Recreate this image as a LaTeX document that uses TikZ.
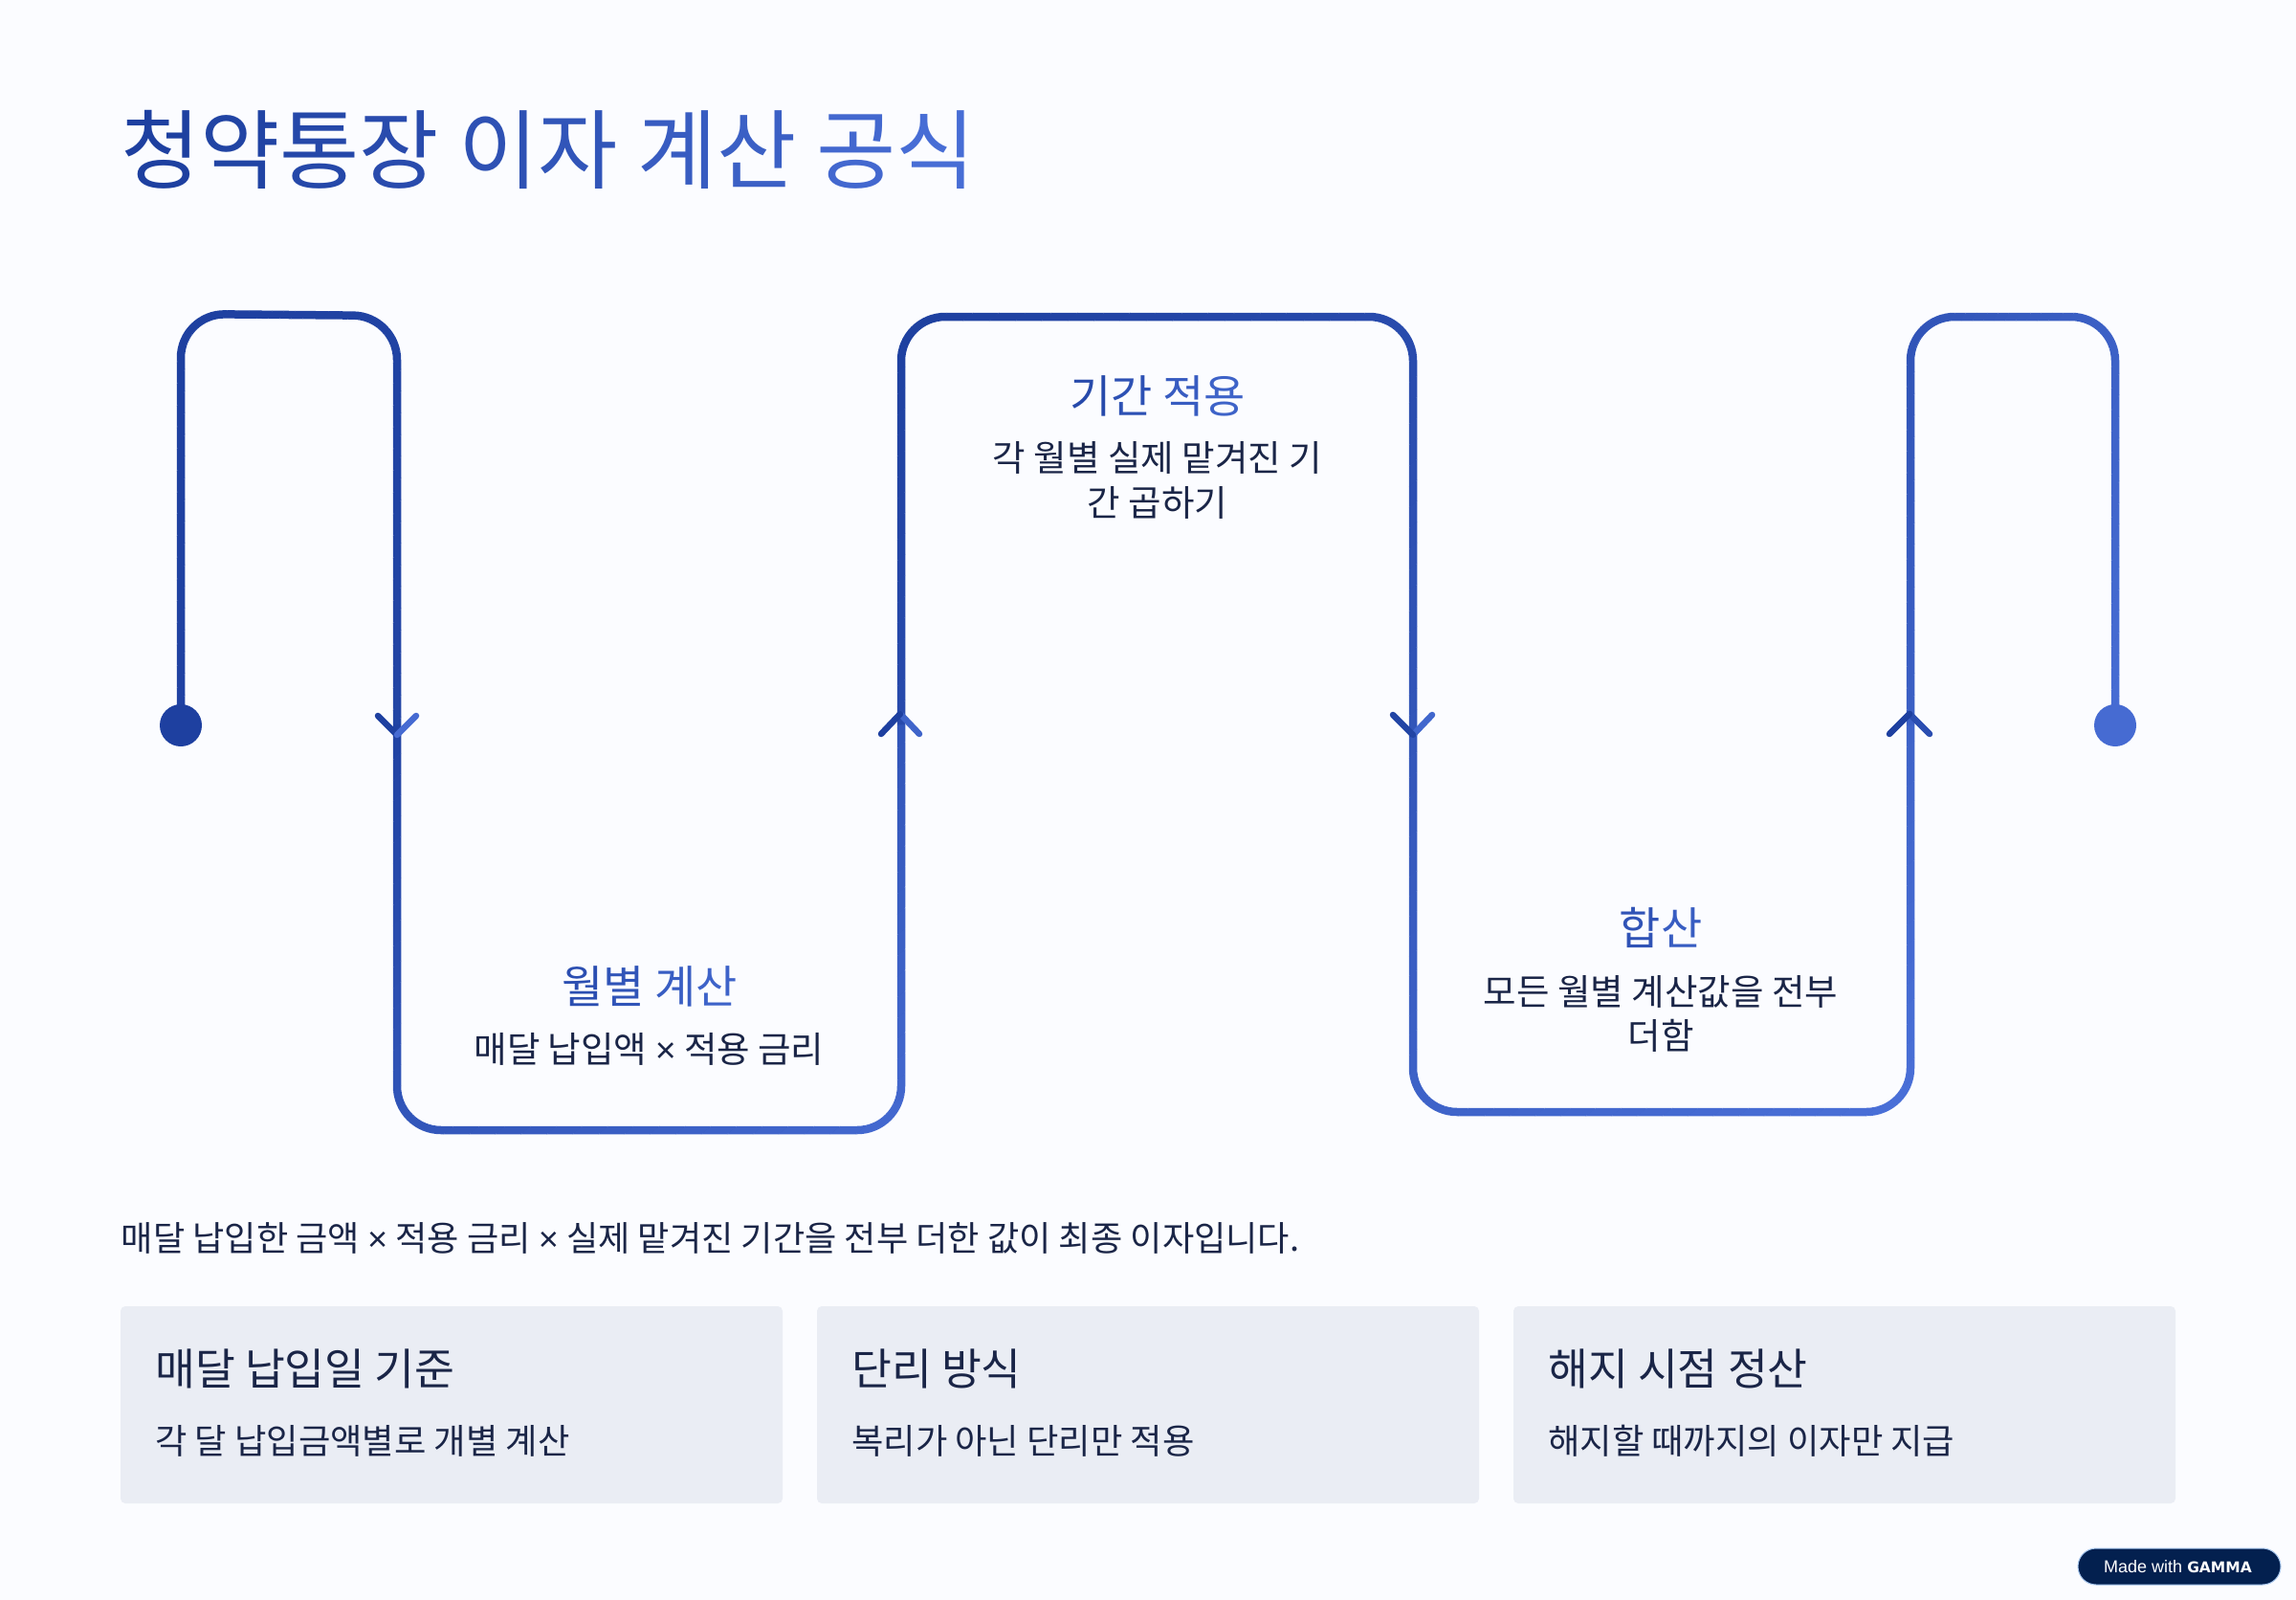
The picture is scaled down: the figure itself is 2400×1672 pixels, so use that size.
\documentclass[tikz,border=0pt]{standalone}
\usepackage{fontspec}
\usepackage{xcolor}
\setmainfont{Noto Sans CJK KR}
\newfontfamily\pBadgeFont{Liberation Sans}
\newfontfamily\pGammaFont{DejaVu Sans}
\definecolor{waveDark}{HTML}{1E40A0}
\definecolor{waveLight}{HTML}{4A70D8}
\definecolor{pageBg}{HTML}{FBFCFF}
\definecolor{cardBg}{HTML}{EAEDF4}
\definecolor{inkDark}{HTML}{1A2547}
\definecolor{badgeBg}{HTML}{03204F}
\definecolor{badgeEdge}{HTML}{A9C8EE}
\newcommand{\pTint}[2]{\textcolor{waveLight!#1!waveDark}{#2}}
\newcommand{\pTimes}{{\pBadgeFont ×}}
% one stretch of the wave, strip by strip along the diagonal of its box
\newcommand{\pWaveGrad}[7]{%
  \draw[wave, line width=6.5pt, #6!50!#5] #7;
  \pgfmathsetmacro{\pKx}{(#2-#1)/(#4-#3)}%
  \pgfmathsetmacro{\pStep}{(#2-#1+(#4-#3)*\pKx+24)/40}%
  \foreach \i in {0,...,39} {%
    \pgfmathsetmacro{\pTa}{#1+#3*\pKx-12+\pStep*\i}%
    \pgfmathsetmacro{\pTb}{\pTa+\pStep}%
    \pgfmathtruncatemacro{\pMix}{\i*100/39}%
    \begin{scope}
      \clip ({\pTa-\pKx*(#3-12)},#3-12) -- ({\pTb-\pKx*(#3-12)},#3-12) -- ({\pTb-\pKx*(#4+12)},#4+12) -- ({\pTa-\pKx*(#4+12)},#4+12) -- cycle;
      \draw[wave, #6!\pMix!#5] #7;
    \end{scope}
  }%
}
\tikzset{
  wave/.style={line width=8.5pt, rounded corners=46pt},
  head/.style={inner sep=0pt, align=center, font=\fontsize{47}{56}\selectfont},
  desc/.style={inner sep=0pt, align=center, text=inkDark, font=\fontsize{37.5}{46.5}\selectfont},
  card/.style={fill=cardBg, rounded corners=5pt},
  cardhead/.style={anchor=west, inner sep=0pt, text=inkDark, font=\fontsize{45.5}{56}\selectfont},
  carddesc/.style={anchor=west, inner sep=0pt, text=inkDark, font=\fontsize{36.3}{44}\selectfont},
  tip/.style={line width=6.5pt, line cap=round, line join=round},
  dot/.style={circle, inner sep=0pt, minimum size=44pt},
}
\begin{document}
\begin{tikzpicture}[x=1pt,y=-1pt]
\useasboundingbox (0,0) rectangle (2400,1672);
\fill[pageBg] (0,0) rectangle (2400,1672);
% title
\node[anchor=base west, inner sep=0pt, font=\fontsize{90.5}{100}\selectfont] (title) at (126,190) {\pTint{0}{청}\pTint{8}{약}\pTint{16}{통}\pTint{24}{장} \pTint{36}{이}\pTint{44}{자} \pTint{58}{계}\pTint{66}{산} \pTint{84}{공}\pTint{94}{식}};
% wave
\pWaveGrad{189}{415}{326}{757}{waveDark}{waveDark!90!waveLight}{(189,757) -- (189,328) -- (415,330) -- (415,757)}
\pWaveGrad{415}{942}{757}{1181}{waveDark!95!waveLight}{waveLight!85!waveDark}{(415,757) -- (415,1181) -- (942,1181) -- (942,757)}
\pWaveGrad{942}{1477}{331}{757}{waveDark}{waveDark!55!waveLight}{(942,757) -- (942,331) -- (1477,331) -- (1477,757)}
\pWaveGrad{1477}{1997}{757}{1162}{waveDark!55!waveLight}{waveLight}{(1477,757) -- (1477,1162) -- (1997,1162) -- (1997,757)}
\pWaveGrad{1997}{2211}{331}{757}{waveDark!60!waveLight}{waveLight!90!waveDark}{(1997,757) -- (1997,331) -- (2211,331) -- (2211,757)}
% dots
\node[dot, fill=waveDark] (startdot) at (189,758) {};
\node[dot, fill=waveLight!90!waveDark] (enddot) at (2211,758) {};
% arrow tips
\coordinate (tipa) at (415,768);
\coordinate (tipb) at (941,746);
\coordinate (tipc) at (1477,768);
\coordinate (tipd) at (1996,746);
\draw[tip, waveDark] (395,748) -- (tipa);
\draw[tip, waveLight!90!waveDark] (tipa) -- (435,748);
\draw[tip, waveLight!75!waveDark] (tipb) -- (961,767);
\draw[tip, waveDark] (921,767) -- (tipb);
\draw[tip, waveLight!80!waveDark] (tipc) -- (1497,747);
\draw[tip, waveDark!90!waveLight] (1456,747) -- (tipc);
\draw[tip, waveDark!70!waveLight] (tipd) -- (2017,767);
\draw[tip, waveDark] (1975,767) -- (tipd);
% labels in the wave
\node[head] (monthhead) at (679,1031) {\pTint{30}{월}\pTint{42}{별} \pTint{62}{계}\pTint{74}{산}};
\node[desc] (monthdesc) at (678.5,1096) {매달 납입액 \pTimes{} 적용 금리};
\node[head] (termhead) at (1210,413.5) {\pTint{20}{기}\pTint{35}{간} \pTint{58}{적}\pTint{72}{용}};
\node[desc] (termdesc) at (1210,502) {각 월별 실제 맡겨진 기\\간 곱하기};
\node[head] (sumhead) at (1736,969.5) {\pTint{40}{합}\pTint{60}{산}};
\node[desc] (sumdesc) at (1736,1059.5) {모든 월별 계산값을 전부\\더함};
% summary line
\node[anchor=west, inner sep=0pt, text=inkDark, font=\fontsize{36.2}{44}\selectfont] (summary) at (126.5,1294) {매달 납입한 금액 \pTimes{} 적용 금리 \pTimes{} 실제 맡겨진 기간을 전부 더한 값이 최종 이자입니다.};
% cards
\fill[card] (126,1365) rectangle (818,1571);
\fill[card] (854,1365) rectangle (1546,1571);
\fill[card] (1582,1365) rectangle (2274,1571);
\node[cardhead] (cardheada) at (162,1430) {매달 납입일 기준};
\node[carddesc] (carddesca) at (162,1505.5) {각 달 납입금액별로 개별 계산};
\node[cardhead] (cardheadb) at (890,1430) {단리 방식};
\node[carddesc] (carddescb) at (890,1505.5) {복리가 아닌 단리만 적용};
\node[cardhead] (cardheadc) at (1618,1430) {해지 시점 정산};
\node[carddesc] (carddescc) at (1618,1505.5) {해지할 때까지의 이자만 지급};
% badge
\draw[fill=badgeBg, draw=badgeEdge, line width=1pt, rounded corners=19pt] (2172,1618) rectangle (2384,1656);
\node[anchor=west, inner sep=0pt, text=white, font=\pBadgeFont\fontsize{18}{20}\selectfont] (badge) at (2199,1637) {Made with {\pGammaFont\bfseries\fontsize{15.5}{20}\selectfont GAMMA}};
\end{tikzpicture}
\end{document}
